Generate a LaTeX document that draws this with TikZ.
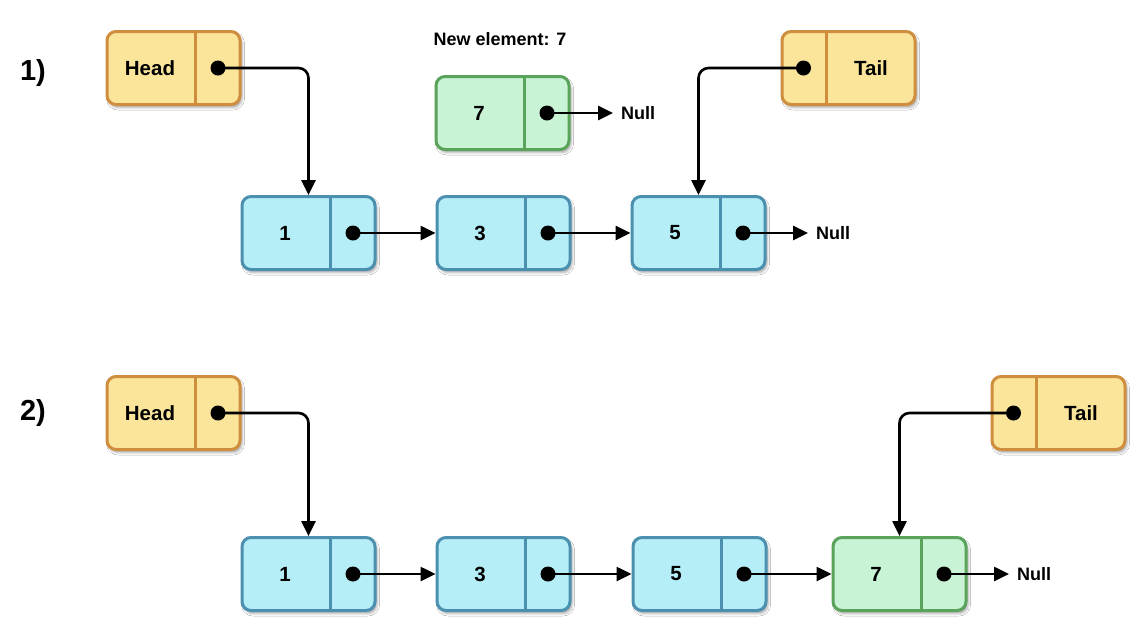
\documentclass[tikz,border=0pt]{standalone}
\usepackage{fontspec}
\setmainfont{Liberation Sans}
\usetikzlibrary{arrows.meta,shadows.blur}

\definecolor{yfill}{HTML}{FAE59B}
\definecolor{ydraw}{HTML}{CF8D3E}
\definecolor{bfill}{HTML}{B6EEF8}
\definecolor{bdraw}{HTML}{4B90AF}
\definecolor{gfill}{HTML}{C9F3D5}
\definecolor{gdraw}{HTML}{5AA35A}

\tikzset{
  cellbox/.style={draw, line width=3pt, rounded corners=9pt,
    minimum width=133pt, minimum height=73pt, inner sep=0pt,
    blur shadow={shadow xshift=2pt, shadow yshift=-3pt,
      shadow blur radius=2.5pt, shadow opacity=35}},
  ptr/.style={circle, fill=black, minimum size=15pt, inner sep=0pt},
  link/.style={line width=2.6pt, -{Triangle[length=15pt,width=14pt]}},
  elbow/.style={link, rounded corners=10pt},
  lbl/.style={font=\bfseries\fontsize{20.5}{24}\selectfont, inner sep=0pt},
  nulltxt/.style={font=\bfseries\fontsize{18}{22}\selectfont, anchor=west,
    inner sep=0pt, outer xsep=8pt},
  steplbl/.style={font=\bfseries\fontsize{29}{32}\selectfont, inner sep=0pt},
  title/.style={font=\bfseries\fontsize{18}{22}\selectfont, inner sep=0pt},
}

% list cell: text left of the divider, pointer on the right
% #1 name, #2 left x, #3 top y, #4 text, #5 fill, #6 stroke
\newcommand{\cellL}[6]{%
  \node[cellbox, fill=#5, draw=#6] (#1) at ({#2+67.5},{#3+37}) {};
  \draw[line width=3pt, draw=#6] ({#2+89},#3) -- ({#2+89},{#3+74});
  \node[lbl] (#1-t) at ({#2+44},{#3+37}) {#4};
  \node[ptr] (#1-p) at ({#2+112},{#3+37}) {};
}
% list cell: pointer left of the divider, text on the right
\newcommand{\cellR}[6]{%
  \node[cellbox, fill=#5, draw=#6] (#1) at ({#2+67.5},{#3+37}) {};
  \draw[line width=3pt, draw=#6] ({#2+45},#3) -- ({#2+45},{#3+74});
  \node[lbl] (#1-t) at ({#2+90},{#3+37}) {#4};
  \node[ptr] (#1-p) at ({#2+22.5},{#3+37}) {};
}

\begin{document}
\begin{tikzpicture}[x=1pt,y=-1pt]
  \useasboundingbox[fill=white] (0,0) rectangle (1148,633);

  % ---- step 1 ----
  \node[steplbl] (s1) at (33,73) {1)};
  \node[title] (newel) at (500,39) {New element: 7};

  \cellL{h1}{106}{31}{Head}{yfill}{ydraw}
  \cellR{t1}{781}{31}{Tail}{yfill}{ydraw}
  \cellL{a1}{241}{196}{1}{bfill}{bdraw}
  \cellL{a3}{436}{196}{3}{bfill}{bdraw}
  \cellL{a5}{631}{196}{5}{bfill}{bdraw}
  \cellL{e7}{435}{76}{7}{gfill}{gdraw}

  \node[nulltxt] (z1) at (808,233) {Null};
  \node[nulltxt] (z7) at (613,113) {Null};

  \draw[elbow] (h1-p.center) -| (a1.north);
  \draw[elbow] (t1-p.center) -| (a5.north);
  \draw[link] (a1-p.center) -- (a1-p.center -| a3.west);
  \draw[link] (a3-p.center) -- (a3-p.center -| a5.west);
  \draw[link] (a5-p.center) -- (a5-p.center -| z1.west);
  \draw[link] (e7-p.center) -- (e7-p.center -| z7.west);

  % ---- step 2 ----
  \node[steplbl] (s2) at (33,413) {2)};

  \cellL{h2}{106}{376}{Head}{yfill}{ydraw}
  \cellR{t2}{991}{376}{Tail}{yfill}{ydraw}
  \cellL{b1}{241}{537}{1}{bfill}{bdraw}
  \cellL{b3}{436}{537}{3}{bfill}{bdraw}
  \cellL{b5}{632}{537}{5}{bfill}{bdraw}
  \cellL{b7}{832}{537}{7}{gfill}{gdraw}

  \node[nulltxt] (z2) at (1009,574) {Null};

  \draw[elbow] (h2-p.center) -| (b1.north);
  \draw[elbow] (t2-p.center) -| (b7.north);
  \draw[link] (b1-p.center) -- (b1-p.center -| b3.west);
  \draw[link] (b3-p.center) -- (b3-p.center -| b5.west);
  \draw[link] (b5-p.center) -- (b5-p.center -| b7.west);
  \draw[link] (b7-p.center) -- (b7-p.center -| z2.west);
\end{tikzpicture}
\end{document}
